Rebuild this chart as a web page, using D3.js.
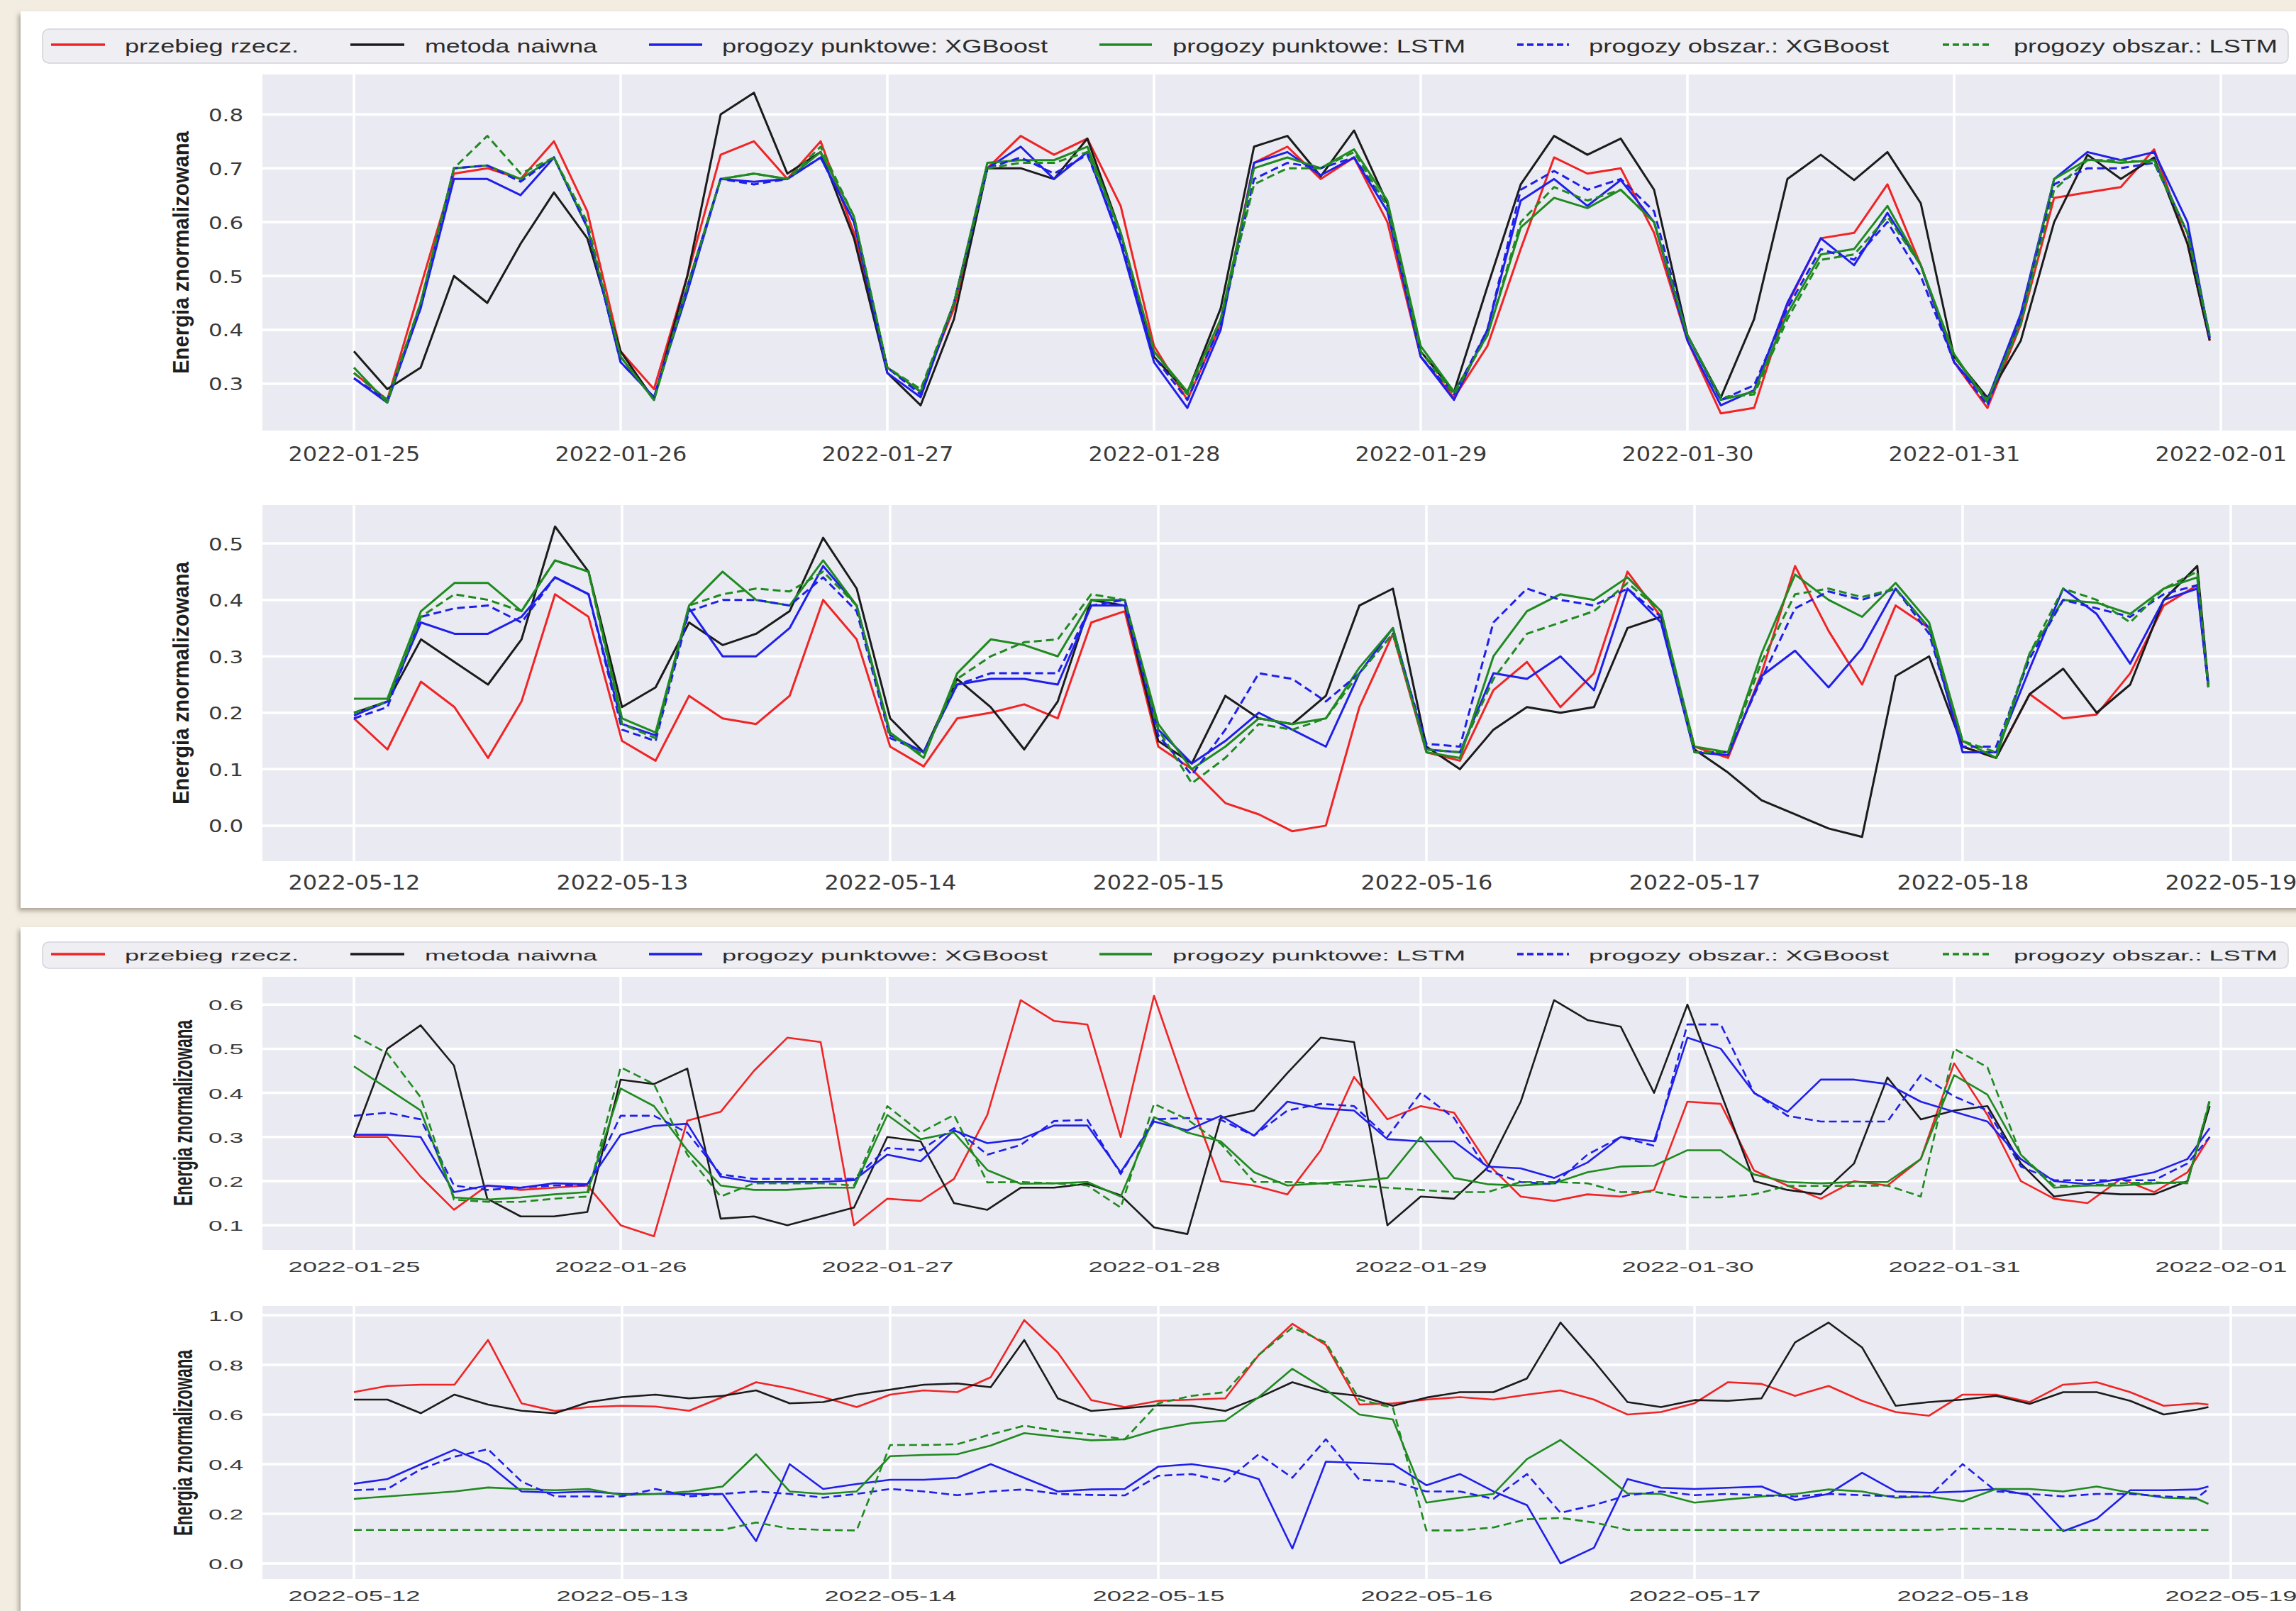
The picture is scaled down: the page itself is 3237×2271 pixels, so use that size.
<!DOCTYPE html>
<html><head><meta charset="utf-8">
<script src="https://cdn.jsdelivr.net/npm/d3@7"></script>
<style>html,body{margin:0;padding:0;background:#f3ede1;overflow:hidden}</style>
</head><body>
<svg id="c" width="3237" height="2271" xmlns="http://www.w3.org/2000/svg"></svg>
<script>
// ---------------- DATA ----------------
const seriesNames = ["przebieg rzecz.", "metoda naiwna", "progozy punktowe: XGBoost",
  "progozy punktowe: LSTM", "progozy obszar.: XGBoost", "progozy obszar.: LSTM"];
const yLabel = "Energia znormalizowana";

const dayTicksJan = ["2022-01-25","2022-01-26","2022-01-27","2022-01-28","2022-01-29","2022-01-30","2022-01-31","2022-02-01"];
const dayTicksMay = ["2022-05-12","2022-05-13","2022-05-14","2022-05-15","2022-05-16","2022-05-17","2022-05-18","2022-05-19"];

const yTicksP1 = [0.3, 0.4, 0.5, 0.6, 0.7, 0.8];
const yTicksP2 = [0.0, 0.1, 0.2, 0.3, 0.4, 0.5];
const yTicksP3 = [0.1, 0.2, 0.3, 0.4, 0.5, 0.6];
const yTicksP4 = [0.0, 0.2, 0.4, 0.6, 0.8, 1.0];

// hours since the first day (00:00)
const hoursJan = [0,3,6,9,12,15,18,21, 24,27,30,33,36,39,42,45, 48,51,54,57,60,63,66,69,
  72,75,78,81,84,87,90,93, 96,99,102,105,108,111,114,117, 120,123,126,129,132,135,138,141,
  144,147,150,153,156,159,162,165, 167];
const hoursMay = [0,3,6,9,12,15,18,21, 24,27,30,33,36,39,42,45, 48,51,54,57,60,63,66,69,
  72,75,78,81,84,87,90,93, 96,99,102,105,108,111,114,117, 120,123,126,129,132,135,138,141,
  144,147,150,153,156,159,162,165, 166];

// Panel 1: 2022-01-25 .. 2022-01-31, point/interval forecasts
const realP1 = [0.32,0.27,0.48,0.69,0.70,0.68,0.75,0.62, 0.36,0.29,0.50,0.725,0.75,0.68,0.75,0.58,
  0.33,0.285,0.44,0.70,0.76,0.725,0.755,0.63, 0.37,0.27,0.41,0.71,0.74,0.68,0.72,0.60,
  0.35,0.274,0.37,0.55,0.72,0.69,0.70,0.58, 0.38,0.245,0.255,0.447,0.57,0.58,0.67,0.52,
  0.34,0.255,0.41,0.645,0.655,0.665,0.735,0.56, 0.38];
const naiveP1 = [0.36,0.29,0.33,0.50,0.45,0.56,0.655,0.57, 0.36,0.27,0.50,0.80,0.84,0.69,0.73,0.57,
  0.32,0.26,0.42,0.70,0.70,0.68,0.755,0.58, 0.35,0.283,0.44,0.74,0.76,0.685,0.77,0.635,
  0.36,0.285,0.48,0.67,0.76,0.725,0.755,0.66, 0.39,0.274,0.42,0.68,0.725,0.678,0.73,0.635,
  0.35,0.274,0.38,0.60,0.725,0.68,0.72,0.56, 0.38];
const xgbP1 = [0.31,0.265,0.44,0.68,0.68,0.65,0.72,0.59, 0.34,0.275,0.47,0.68,0.675,0.68,0.72,0.60,
  0.32,0.275,0.45,0.70,0.74,0.68,0.73,0.56, 0.34,0.255,0.40,0.71,0.73,0.687,0.72,0.62,
  0.35,0.27,0.40,0.64,0.68,0.63,0.678,0.60, 0.38,0.26,0.288,0.45,0.57,0.52,0.617,0.52,
  0.34,0.27,0.43,0.68,0.73,0.715,0.73,0.60, 0.385];
const lstmP1 = [0.33,0.265,0.45,0.70,0.705,0.68,0.72,0.59, 0.35,0.27,0.48,0.68,0.69,0.68,0.73,0.61,
  0.33,0.285,0.45,0.71,0.715,0.715,0.74,0.58, 0.36,0.285,0.42,0.70,0.72,0.70,0.735,0.64,
  0.37,0.285,0.39,0.59,0.645,0.626,0.66,0.60, 0.39,0.27,0.285,0.43,0.54,0.55,0.63,0.52,
  0.355,0.265,0.42,0.68,0.716,0.71,0.715,0.58, 0.39];
const xgbIntP1 = [0.31,0.27,0.44,0.70,0.705,0.675,0.72,0.59, 0.34,0.275,0.48,0.68,0.67,0.68,0.72,0.60,
  0.33,0.28,0.45,0.70,0.72,0.69,0.725,0.57, 0.35,0.27,0.41,0.68,0.71,0.70,0.72,0.63,
  0.35,0.28,0.40,0.66,0.695,0.66,0.68,0.62, 0.39,0.27,0.297,0.44,0.55,0.53,0.60,0.50,
  0.34,0.26,0.42,0.67,0.70,0.70,0.71,0.58, 0.385];
const lstmIntP1 = [0.32,0.27,0.45,0.70,0.76,0.69,0.72,0.60, 0.35,0.27,0.48,0.68,0.69,0.68,0.74,0.61,
  0.33,0.29,0.45,0.70,0.71,0.71,0.73,0.58, 0.36,0.28,0.42,0.67,0.70,0.70,0.73,0.63,
  0.36,0.28,0.39,0.60,0.665,0.64,0.66,0.60, 0.39,0.275,0.28,0.42,0.53,0.54,0.61,0.52,
  0.35,0.27,0.41,0.66,0.715,0.715,0.71,0.58, 0.39];

// Panel 2: 2022-05-12 .. 2022-05-18
const realP2 = [0.19,0.135,0.255,0.21,0.12,0.22,0.41,0.37, 0.15,0.115,0.23,0.19,0.18,0.23,0.40,0.33,
  0.14,0.105,0.19,0.20,0.215,0.19,0.36,0.38, 0.14,0.10,0.04,0.02,-0.01,0.0,0.21,0.34,
  0.13,0.115,0.24,0.29,0.21,0.27,0.45,0.37, 0.14,0.12,0.27,0.46,0.345,0.25,0.39,0.35,
  0.14,0.12,0.233,0.19,0.197,0.27,0.39,0.426, 0.245];
const naiveP2 = [0.20,0.22,0.33,0.29,0.25,0.33,0.53,0.45, 0.21,0.245,0.36,0.32,0.34,0.38,0.51,0.42,
  0.19,0.13,0.26,0.21,0.135,0.22,0.40,0.39, 0.15,0.11,0.23,0.19,0.18,0.23,0.39,0.42,
  0.14,0.10,0.17,0.21,0.20,0.21,0.35,0.37, 0.135,0.094,0.045,0.02,-0.005,-0.02,0.265,0.30,
  0.14,0.12,0.233,0.278,0.20,0.25,0.40,0.46, 0.25];
const xgbP2 = [0.195,0.22,0.36,0.34,0.34,0.37,0.44,0.41, 0.18,0.16,0.385,0.30,0.30,0.35,0.46,0.39,
  0.16,0.13,0.25,0.26,0.26,0.25,0.39,0.39, 0.17,0.11,0.15,0.20,0.17,0.14,0.27,0.35,
  0.135,0.13,0.27,0.26,0.30,0.24,0.42,0.36, 0.13,0.125,0.265,0.31,0.245,0.314,0.42,0.35,
  0.13,0.13,0.278,0.42,0.375,0.287,0.40,0.42, 0.245];
const lstmP2 = [0.225,0.225,0.38,0.43,0.43,0.38,0.47,0.45, 0.19,0.165,0.39,0.45,0.40,0.39,0.47,0.39,
  0.165,0.12,0.27,0.33,0.32,0.30,0.40,0.40, 0.18,0.10,0.14,0.19,0.18,0.19,0.28,0.35,
  0.13,0.12,0.30,0.38,0.41,0.40,0.44,0.38, 0.14,0.13,0.305,0.445,0.40,0.37,0.43,0.36,
  0.15,0.12,0.305,0.40,0.395,0.375,0.42,0.44, 0.245];
const xgbIntP2 = [0.19,0.21,0.37,0.385,0.39,0.36,0.44,0.41, 0.17,0.15,0.38,0.40,0.40,0.39,0.44,0.38,
  0.155,0.13,0.25,0.27,0.27,0.27,0.39,0.40, 0.16,0.09,0.17,0.27,0.26,0.22,0.27,0.34,
  0.145,0.14,0.36,0.42,0.40,0.39,0.42,0.37, 0.13,0.13,0.26,0.385,0.415,0.40,0.42,0.34,
  0.14,0.14,0.296,0.40,0.385,0.37,0.41,0.426, 0.245];
const lstmIntP2 = [0.20,0.22,0.37,0.41,0.40,0.38,0.47,0.45, 0.18,0.155,0.39,0.41,0.42,0.415,0.45,0.39,
  0.16,0.125,0.26,0.30,0.325,0.33,0.41,0.40, 0.17,0.075,0.12,0.18,0.17,0.19,0.27,0.34,
  0.135,0.13,0.26,0.34,0.36,0.38,0.43,0.38, 0.13,0.13,0.29,0.41,0.42,0.405,0.42,0.35,
  0.15,0.13,0.305,0.42,0.40,0.36,0.42,0.45, 0.245];

// Panel 3: 2022-01-25 .. 2022-01-31 (second model set)
const realP3 = [0.30,0.30,0.21,0.135,0.19,0.18,0.185,0.19, 0.10,0.075,0.337,0.357,0.45,0.525,0.515,0.10,
  0.16,0.155,0.205,0.35,0.61,0.563,0.555,0.30, 0.62,0.40,0.20,0.19,0.17,0.27,0.436,0.34,
  0.37,0.355,0.24,0.165,0.155,0.17,0.165,0.18, 0.38,0.375,0.224,0.19,0.16,0.20,0.19,0.25,
  0.467,0.35,0.20,0.16,0.15,0.205,0.175,0.22, 0.30];
const naiveP3 = [0.30,0.50,0.553,0.462,0.16,0.12,0.12,0.13, 0.43,0.42,0.455,0.115,0.12,0.10,0.12,0.14,
  0.30,0.29,0.15,0.135,0.185,0.185,0.194,0.168, 0.095,0.08,0.343,0.36,0.445,0.525,0.515,0.10,
  0.165,0.16,0.23,0.38,0.61,0.565,0.55,0.40, 0.60,0.40,0.20,0.18,0.17,0.24,0.435,0.34,
  0.36,0.37,0.24,0.165,0.175,0.17,0.17,0.20, 0.37];
const xgbP3 = [0.305,0.305,0.30,0.175,0.19,0.185,0.195,0.193, 0.305,0.325,0.33,0.21,0.198,0.198,0.198,0.202,
  0.26,0.245,0.315,0.286,0.295,0.326,0.326,0.22, 0.335,0.315,0.348,0.303,0.38,0.365,0.36,0.295,
  0.29,0.29,0.233,0.229,0.207,0.242,0.30,0.29, 0.525,0.50,0.40,0.357,0.43,0.43,0.42,0.38,
  0.357,0.335,0.25,0.20,0.193,0.205,0.22,0.25, 0.32];
const lstmP3 = [0.46,0.41,0.36,0.163,0.158,0.163,0.17,0.175, 0.41,0.37,0.27,0.19,0.18,0.18,0.185,0.185,
  0.35,0.295,0.31,0.225,0.194,0.195,0.198,0.165, 0.345,0.31,0.29,0.22,0.19,0.195,0.20,0.207,
  0.30,0.207,0.193,0.19,0.195,0.22,0.233,0.235, 0.27,0.27,0.215,0.198,0.195,0.198,0.198,0.25,
  0.44,0.396,0.26,0.185,0.19,0.19,0.195,0.198, 0.38];
const xgbIntP3 = [0.348,0.355,0.34,0.19,0.18,0.185,0.19,0.19, 0.348,0.348,0.31,0.215,0.205,0.205,0.205,0.205,
  0.275,0.27,0.32,0.26,0.282,0.336,0.339,0.216, 0.34,0.343,0.339,0.303,0.36,0.375,0.37,0.30,
  0.40,0.343,0.224,0.198,0.193,0.26,0.30,0.28, 0.555,0.555,0.40,0.348,0.335,0.335,0.335,0.44,
  0.392,0.36,0.233,0.202,0.202,0.202,0.202,0.24, 0.30];
const lstmIntP3 = [0.53,0.49,0.39,0.158,0.153,0.153,0.16,0.165, 0.458,0.42,0.26,0.165,0.195,0.195,0.195,0.19,
  0.37,0.31,0.35,0.197,0.198,0.195,0.19,0.14, 0.375,0.34,0.285,0.198,0.198,0.195,0.19,0.185,
  0.18,0.175,0.175,0.198,0.198,0.195,0.175,0.176, 0.163,0.163,0.17,0.189,0.189,0.189,0.19,0.165,
  0.50,0.458,0.26,0.19,0.19,0.195,0.197,0.195, 0.385];

// Panel 4: 2022-05-12 .. 2022-05-18 (second model set)
const realP4 = [0.69,0.715,0.72,0.72,0.90,0.645,0.614,0.63, 0.635,0.632,0.615,0.67,0.73,0.705,0.67,0.63,
  0.68,0.697,0.69,0.75,0.98,0.85,0.658,0.63, 0.655,0.66,0.665,0.84,0.965,0.88,0.64,0.645,
  0.66,0.67,0.66,0.68,0.697,0.66,0.60,0.61, 0.645,0.73,0.723,0.675,0.715,0.655,0.61,0.595,
  0.68,0.68,0.65,0.72,0.73,0.69,0.635,0.645, 0.64];
const naiveP4 = [0.66,0.66,0.605,0.68,0.64,0.615,0.605,0.65, 0.67,0.68,0.665,0.675,0.697,0.645,0.65,0.68,
  0.70,0.72,0.725,0.71,0.90,0.665,0.614,0.625, 0.637,0.635,0.614,0.668,0.73,0.69,0.675,0.635,
  0.668,0.69,0.69,0.745,0.97,0.815,0.65,0.63, 0.658,0.655,0.665,0.89,0.97,0.87,0.635,0.65,
  0.66,0.675,0.643,0.69,0.69,0.655,0.60,0.62, 0.63];
const xgbP4 = [0.321,0.34,0.40,0.458,0.40,0.29,0.285,0.29, 0.28,0.28,0.28,0.28,0.09,0.40,0.30,0.32,
  0.337,0.337,0.345,0.40,0.345,0.29,0.298,0.30, 0.39,0.40,0.38,0.34,0.06,0.41,0.405,0.40,
  0.315,0.36,0.29,0.235,0.0,0.063,0.34,0.305, 0.30,0.305,0.31,0.255,0.28,0.365,0.29,0.285,
  0.29,0.30,0.275,0.13,0.18,0.295,0.295,0.298, 0.31];
const lstmP4 = [0.26,0.27,0.28,0.29,0.306,0.30,0.295,0.30, 0.275,0.28,0.29,0.31,0.44,0.29,0.28,0.29,
  0.432,0.437,0.44,0.475,0.525,0.51,0.496,0.50, 0.54,0.565,0.575,0.67,0.784,0.70,0.60,0.58,
  0.245,0.265,0.28,0.42,0.497,0.392,0.282,0.28, 0.245,0.258,0.27,0.28,0.298,0.29,0.265,0.27,
  0.25,0.30,0.30,0.29,0.31,0.285,0.265,0.26, 0.24];
const xgbIntP4 = [0.295,0.30,0.38,0.43,0.46,0.33,0.27,0.27, 0.27,0.30,0.27,0.28,0.29,0.28,0.265,0.28,
  0.30,0.29,0.275,0.29,0.298,0.28,0.276,0.274, 0.353,0.36,0.33,0.44,0.345,0.50,0.337,0.33,
  0.29,0.29,0.26,0.36,0.204,0.235,0.274,0.29, 0.275,0.28,0.275,0.27,0.28,0.275,0.27,0.27,
  0.40,0.29,0.28,0.27,0.28,0.28,0.27,0.265, 0.30];
const lstmIntP4 = [0.135,0.135,0.135,0.135,0.135,0.135,0.135,0.135, 0.135,0.135,0.135,0.135,0.165,0.14,0.135,0.133,
  0.477,0.477,0.48,0.52,0.555,0.533,0.52,0.50, 0.645,0.675,0.69,0.84,0.95,0.89,0.66,0.627,
  0.133,0.133,0.145,0.178,0.183,0.165,0.135,0.135, 0.135,0.135,0.135,0.135,0.135,0.135,0.135,0.135,
  0.14,0.14,0.135,0.135,0.135,0.135,0.135,0.135, 0.135];

// ---------------- DRAWING ----------------
const W = 3237, H = 2271;
const svg = d3.select('#c');
const parseDay = d3.utcParse('%Y-%m-%d');
const fmtDay = d3.utcFormat('%Y-%m-%d');
const colors = ['#f02424', '#1b1b1b', '#1f1fea', '#1f8a1f', '#1f1fea', '#1f8a1f'];
const dashes = [null, null, null, null, '11,6', '11,6'];

const defs = svg.append('defs');
const f = defs.append('filter').attr('id', 'sh').attr('x', '-2%').attr('y', '-2%').attr('width', '104%').attr('height', '106%');
f.append('feDropShadow').attr('dx', -3).attr('dy', 4).attr('stdDeviation', 3)
  .attr('flood-color', '#6f685c').attr('flood-opacity', 0.55);

svg.append('rect').attr('width', W).attr('height', H).attr('fill', '#f3ede1');
svg.append('rect').attr('x', 29).attr('y', 16).attr('width', 3300).attr('height', 1264)
  .attr('fill', '#ffffff').attr('filter', 'url(#sh)');
svg.append('rect').attr('x', 29).attr('y', 1307).attr('width', 3300).attr('height', 1100)
  .attr('fill', '#ffffff').attr('filter', 'url(#sh)');

function fitText(sel, len) {
  sel.attr('textLength', len).attr('lengthAdjust', 'spacingAndGlyphs');
}

// legends
const legendHandles = [[72, 148], [494, 570], [915, 990], [1550, 1624], [2139, 2212], [2739, 2808]];
const legendTextX = [176, 599, 1018, 1653, 2240, 2839];
const legendTextLen = [245, 243, 459, 413, 423, 372];
function legend(top, h, lineY, baseY, fs) {
  const g = svg.append('g');
  g.append('rect').attr('x', 60).attr('y', top).attr('width', 3166).attr('height', h)
    .attr('rx', 9).attr('fill', '#eeeef3').attr('stroke', '#d4d4dc').attr('stroke-width', 1.6);
  seriesNames.forEach((name, i) => {
    g.append('line').attr('x1', legendHandles[i][0]).attr('x2', legendHandles[i][1])
      .attr('y1', lineY).attr('y2', lineY).attr('stroke', colors[i]).attr('stroke-width', 3.6)
      .attr('stroke-dasharray', dashes[i] ? '9,5' : null);
    g.append('text').attr('x', legendTextX[i]).attr('y', baseY)
      .attr('font-family', 'Liberation Sans, Arial, sans-serif').attr('font-size', fs)
      .attr('fill', '#2b2b2b').text(name).call(fitText, legendTextLen[i]);
  });
}
legend(41, 48, 63, 74, 26);
legend(1328, 37, 1345, 1354, 20);

const panels = [
  {top: 105, bottom: 607, yDom: [0.213, 0.874], yTicks: yTicksP1, days: dayTicksJan, hours: hoursJan, dayPx: 376,
   series: [realP1, naiveP1, xgbP1, lstmP1, xgbIntP1, lstmIntP1], card: 1, xBase: 650, ylx: 266, ylc: 356},
  {top: 712, bottom: 1214, yDom: [-0.063, 0.568], yTicks: yTicksP2, days: dayTicksMay, hours: hoursMay, dayPx: 378,
   series: [realP2, naiveP2, xgbP2, lstmP2, xgbIntP2, lstmIntP2], card: 1, xBase: 1254, ylx: 266, ylc: 963},
  {top: 1377, bottom: 1762, yDom: [0.044, 0.663], yTicks: yTicksP3, days: dayTicksJan, hours: hoursJan, dayPx: 376,
   series: [realP3, naiveP3, xgbP3, lstmP3, xgbIntP3, lstmIntP3], card: 2, xBase: 1793, ylx: 271, ylc: 1569},
  {top: 1841, bottom: 2226, yDom: [-0.063, 1.037], yTicks: yTicksP4, days: dayTicksMay, hours: hoursMay, dayPx: 378,
   series: [realP4, naiveP4, xgbP4, lstmP4, xgbIntP4, lstmIntP4], card: 2, xBase: 2257, ylx: 271, ylc: 2034}
];

const PL = 370, PR = 3270, X0 = 499;

panels.forEach((p, pi) => {
  const dayDates = p.days.map(parseDay);
  const t0 = dayDates[0];
  const x = d3.scaleUtc().domain([dayDates[0], dayDates[7]]).range([X0, X0 + 7 * p.dayPx]);
  const y = d3.scaleLinear().domain(p.yDom).range([p.bottom, p.top]);
  const g = svg.append('g');

  g.append('rect').attr('x', PL).attr('y', p.top).attr('width', PR - PL).attr('height', p.bottom - p.top)
    .attr('fill', '#eaeaf2');

  // grid
  g.selectAll('.vg').data(dayDates).join('line')
    .attr('x1', d => x(d)).attr('x2', d => x(d)).attr('y1', p.top).attr('y2', p.bottom)
    .attr('stroke', '#ffffff').attr('stroke-width', 3.5);
  g.selectAll('.hg').data(p.yTicks).join('line')
    .attr('x1', PL).attr('x2', PR).attr('y1', d => y(d)).attr('y2', d => y(d))
    .attr('stroke', '#ffffff').attr('stroke-width', 3.5);

  // axes
  const big = p.card === 1;
  const xAxis = d3.axisBottom(x).tickValues(dayDates).tickFormat(fmtDay).tickSize(0);
  const ax = g.append('g').attr('transform', `translate(0,${p.bottom})`).call(xAxis);
  ax.select('.domain').remove();
  ax.selectAll('text')
    .attr('y', p.xBase - p.bottom).attr('dy', 0)
    .attr('font-family', big ? 'DejaVu Sans, sans-serif' : 'Liberation Sans, Arial, sans-serif')
    .attr('font-size', big ? 29 : 20).attr('fill', '#3a3a3a')
    .call(fitText, 186);

  const yAxis = d3.axisLeft(y).tickValues(p.yTicks).tickFormat(d3.format('.1f')).tickSize(0).tickPadding(0);
  const ay = g.append('g').attr('transform', `translate(343,0)`).call(yAxis);
  ay.select('.domain').remove();
  ay.selectAll('text')
    .attr('x', 0).attr('dy', '0.36em')
    .attr('font-family', big ? 'DejaVu Sans, sans-serif' : 'Liberation Sans, Arial, sans-serif')
    .attr('font-size', big ? 25 : 21).attr('fill', '#3a3a3a')
    .call(fitText, 49);

  // y label
  g.append('text')
    .attr('transform', `translate(${p.ylx},${p.ylc}) rotate(-90)`)
    .attr('text-anchor', 'middle')
    .attr('font-family', 'Liberation Sans, Arial, sans-serif').attr('font-weight', 'bold')
    .attr('font-size', big ? 32 : 36).attr('fill', '#1e1e1e')
    .text(yLabel).call(fitText, big ? 342 : 262);

  // clip
  defs.append('clipPath').attr('id', 'clip' + pi).append('rect')
    .attr('x', PL).attr('y', p.top).attr('width', PR - PL).attr('height', p.bottom - p.top);

  const lines = g.append('g').attr('clip-path', `url(#clip${pi})`);
  p.series.forEach((vals, si) => {
    const line = d3.line()
      .x((d, i) => x(d3.utcHour.offset(t0, p.hours[i])))
      .y(d => y(d));
    lines.append('path').attr('d', line(vals))
      .attr('fill', 'none').attr('stroke', colors[si])
      .attr('stroke-width', big ? 3 : 2.6)
      .attr('stroke-linejoin', 'round')
      .attr('stroke-dasharray', dashes[si]);
  });
});
</script>
</body></html>
